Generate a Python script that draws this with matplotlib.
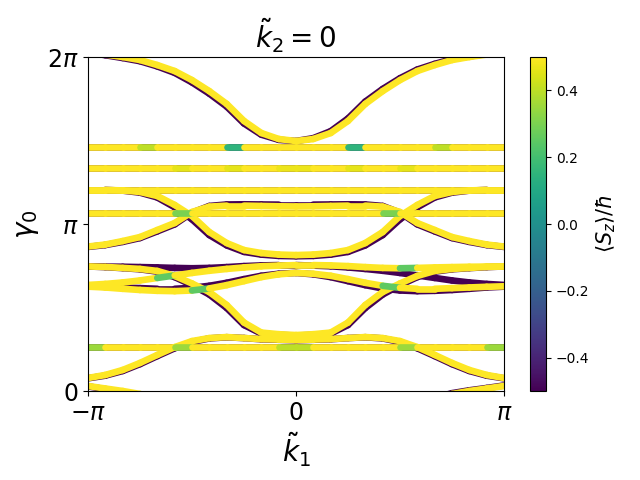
import numpy as np
import matplotlib
matplotlib.use("Agg")
import matplotlib.pyplot as plt
from matplotlib.collections import LineCollection
from matplotlib.colors import Normalize

# k1 in units of pi
k1 = [-1.0, -0.917, -0.833, -0.75, -0.667, -0.583, -0.5, -0.417, -0.333, -0.25, -0.167, -0.083, 0.0,
      0.083, 0.167, 0.25, 0.333, 0.417, 0.5, 0.583, 0.667, 0.75, 0.833, 0.917, 1.0]

# gamma_0 in units of pi, "up" = <Sz> ~ +1/2, "dn" = <Sz> ~ -1/2
top_up = [2.03, 2.015, 2.0, 1.982, 1.952, 1.916, 1.862, 1.796, 1.719, 1.617, 1.545, 1.509, 1.497,
          1.509, 1.545, 1.617, 1.719, 1.796, 1.862, 1.916, 1.952, 1.982, 2.0, 2.015, 2.03]
top_dn = [2.028, 2.011, 1.994, 1.975, 1.944, 1.905, 1.848, 1.781, 1.703, 1.602, 1.535, 1.504, 1.497,
          1.514, 1.556, 1.632, 1.733, 1.809, 1.873, 1.925, 1.959, 1.987, 2.004, 2.018, 2.033]

m1_up = [1.204, 1.204, 1.201, 1.192, 1.168, 1.114, 1.048, 0.952, 0.886, 0.844, 0.826, 0.817, 0.814,
         0.817, 0.826, 0.844, 0.886, 0.952, 1.048, 1.114, 1.168, 1.192, 1.201, 1.204, 1.204]
m1_dn = [1.204, 1.204, 1.200, 1.188, 1.159, 1.100, 1.028, 0.934, 0.872, 0.833, 0.817, 0.809, 0.807,
         0.809, 0.817, 0.833, 0.872, 0.934, 1.028, 1.100, 1.159, 1.188, 1.200, 1.204, 1.204]

m2_up = [0.865, 0.877, 0.898, 0.922, 0.964, 1.006, 1.072, 1.104, 1.110, 1.110, 1.108, 1.106, 1.105,
         1.106, 1.108, 1.110, 1.110, 1.104, 1.072, 1.006, 0.964, 0.922, 0.898, 0.877, 0.865]
m2_dn = [0.863, 0.874, 0.893, 0.916, 0.956, 0.998, 1.068, 1.108, 1.117, 1.118, 1.117, 1.116, 1.116,
         1.116, 1.117, 1.118, 1.117, 1.108, 1.068, 0.998, 0.956, 0.916, 0.893, 0.874, 0.863]

l1_up = [0.746, 0.743, 0.737, 0.731, 0.719, 0.689, 0.644, 0.593, 0.515, 0.410, 0.350, 0.340, 0.335,
         0.340, 0.350, 0.410, 0.515, 0.593, 0.644, 0.689, 0.719, 0.731, 0.737, 0.743, 0.746]
l1_dn = [0.746, 0.742, 0.736, 0.729, 0.715, 0.682, 0.634, 0.578, 0.497, 0.395, 0.344, 0.336, 0.332,
         0.336, 0.344, 0.395, 0.497, 0.578, 0.634, 0.682, 0.715, 0.729, 0.736, 0.742, 0.746]

l2_up = [0.078, 0.096, 0.126, 0.168, 0.216, 0.263, 0.299, 0.317, 0.323, 0.317, 0.311, 0.308, 0.305,
         0.308, 0.311, 0.317, 0.323, 0.317, 0.299, 0.263, 0.216, 0.168, 0.126, 0.096, 0.078]
l2_dn = [0.076, 0.092, 0.120, 0.161, 0.209, 0.256, 0.294, 0.315, 0.322, 0.317, 0.310, 0.307, 0.304,
         0.307, 0.310, 0.317, 0.322, 0.315, 0.294, 0.256, 0.209, 0.161, 0.120, 0.092, 0.076]

c1_up = [0.635, 0.641, 0.650, 0.662, 0.677, 0.692, 0.707, 0.720, 0.731, 0.740, 0.747, 0.751, 0.754,
         0.754, 0.752, 0.748, 0.742, 0.737, 0.735, 0.737, 0.740, 0.742, 0.744, 0.745, 0.746]
c1_dn = [0.746, 0.745, 0.744, 0.742, 0.740, 0.737, 0.735, 0.737, 0.742, 0.748, 0.752, 0.754, 0.754,
         0.751, 0.747, 0.740, 0.731, 0.720, 0.707, 0.692, 0.677, 0.662, 0.650, 0.641, 0.635]
c2_up = [0.625, 0.620, 0.612, 0.605, 0.600, 0.598, 0.602, 0.614, 0.634, 0.658, 0.682, 0.699, 0.707,
         0.702, 0.690, 0.670, 0.648, 0.630, 0.618, 0.612, 0.612, 0.616, 0.620, 0.624, 0.627]
c2_dn = [0.627, 0.624, 0.620, 0.616, 0.612, 0.612, 0.618, 0.630, 0.648, 0.670, 0.690, 0.702, 0.707,
         0.699, 0.682, 0.658, 0.634, 0.614, 0.602, 0.598, 0.600, 0.605, 0.612, 0.620, 0.625]

# nearly flat bands
flat_levels = [1.461, 1.335, 1.204, 1.066, 0.263]

# <Sz> per segment between neighbouring k1 points (24 segments)
sz_f1 = [0.5, 0.5, 0.5, 0.4, 0.5, 0.5, 0.5, 0.5, 0.15, 0.5, 0.5, 0.5,
         0.5, 0.5, 0.5, 0.15, 0.5, 0.5, 0.5, 0.5, 0.4, 0.5, 0.5, 0.5]
sz_f2 = [0.5, 0.5, 0.5, 0.5, 0.5, 0.46, 0.5, 0.5, 0.46, 0.5, 0.5, 0.47,
         0.47, 0.5, 0.5, 0.46, 0.5, 0.5, 0.46, 0.5, 0.5, 0.5, 0.5, 0.5]
sz_f3 = [0.5] * 24
sz_f4 = [0.5, 0.5, 0.5, 0.5, 0.5, 0.3, 0.5, 0.5, 0.5, 0.5, 0.5, 0.5,
         0.5, 0.5, 0.5, 0.5, 0.5, 0.3, 0.5, 0.5, 0.5, 0.5, 0.5, 0.5]
sz_f5 = [0.35, 0.5, 0.5, 0.5, 0.5, 0.35, 0.5, 0.5, 0.5, 0.5, 0.5, 0.4,
         0.4, 0.5, 0.5, 0.5, 0.5, 0.5, 0.35, 0.5, 0.5, 0.5, 0.5, 0.35]
sz_c1 = [0.5, 0.5, 0.5, 0.5, 0.25, 0.5, 0.5, 0.5, 0.5, 0.5, 0.5, 0.5,
         0.5, 0.5, 0.5, 0.5, 0.5, 0.5, 0.25, 0.5, 0.5, 0.5, 0.5, 0.5]
sz_c2 = [0.5, 0.5, 0.5, 0.5, 0.5, 0.5, 0.25, 0.5, 0.5, 0.5, 0.5, 0.5,
         0.5, 0.5, 0.5, 0.5, 0.5, 0.25, 0.5, 0.5, 0.5, 0.5, 0.5, 0.5]

norm = Normalize(vmin=-0.5, vmax=0.5)
kx = np.array(k1) * np.pi


def add_band(ax, g, sz, lw=4.8):
    pts = np.column_stack([kx, np.asarray(g) * np.pi])
    segs = np.stack([pts[:-1], pts[1:]], axis=1)
    s = np.broadcast_to(np.asarray(sz, dtype=float), (len(segs),))
    lc = LineCollection(segs, cmap='viridis', norm=norm, linewidths=lw, capstyle='round')
    lc.set_array(np.array(s))
    ax.add_collection(lc)
    return lc


fig = plt.figure(figsize=(6.4, 4.8))
ax = fig.add_axes([0.1375, 0.1854, 0.65, 0.6958])
cax = fig.add_axes([0.828, 0.1854, 0.025, 0.6958])

# spin down first, spin up on top
for g in [top_dn, m1_dn, m2_dn, l1_dn, l2_dn, c1_dn, c2_dn]:
    add_band(ax, g, -0.5)
add_band(ax, np.array(top_dn) - 2, -0.5)
for lev in flat_levels:
    add_band(ax, np.full(len(k1), lev), -0.5)

for g in [top_up, m1_up, m2_up, l1_up, l2_up]:
    add_band(ax, g, 0.5)
add_band(ax, np.array(top_up) - 2, 0.5)
add_band(ax, c1_up, sz_c1)
add_band(ax, c2_up, sz_c2)
last = None
for lev, sz in zip(flat_levels, [sz_f1, sz_f2, sz_f3, sz_f4, sz_f5]):
    last = add_band(ax, np.full(len(k1), lev), sz)

ax.set_xlim(-np.pi, np.pi)
ax.set_ylim(0, 2 * np.pi)
ax.set_xticks([-np.pi, 0, np.pi])
ax.set_xticklabels([r'$-\pi$', r'$0$', r'$\pi$'], fontsize=17)
ax.set_yticks([0, np.pi, 2 * np.pi])
ax.set_yticklabels([r'$0$', r'$\pi$', r'$2\pi$'], fontsize=17)
ax.set_xlabel(r'$\tilde{k}_1$', fontsize=20)
ax.set_ylabel(r'$\gamma_0$', fontsize=20)
ax.set_title(r'$\tilde{k}_2 = 0$', fontsize=20)

cb = fig.colorbar(last, cax=cax)
cb.set_label(r'$\langle S_z\rangle/\hbar$', fontsize=15)

fig.savefig('out.png', dpi=100)
